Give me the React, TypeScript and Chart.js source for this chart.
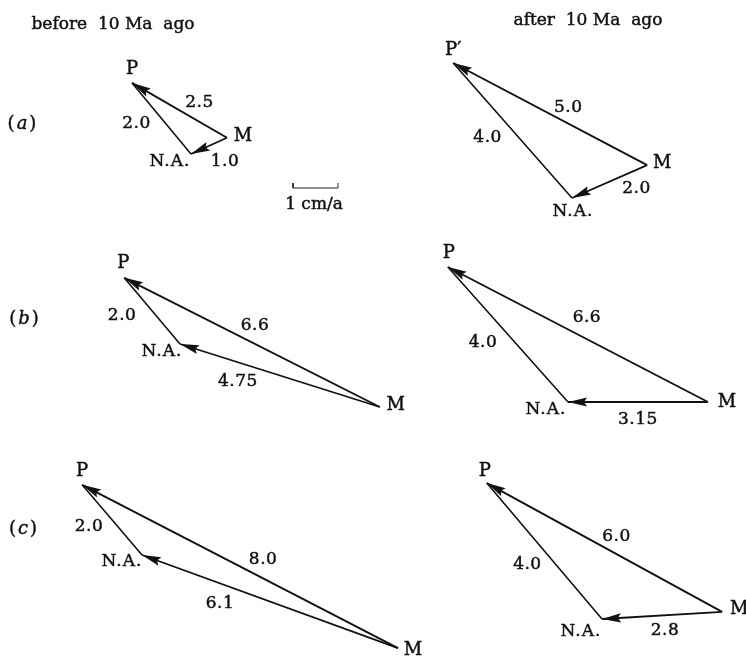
import React, { useEffect, useRef } from "react";
import { Chart, registerables } from "chart.js";

Chart.register(...registerables);

// ---------------- DATA (velocities in cm/a relative to N.A.; east, north) ----------------
const panelIds = ["a-before", "a-after", "b-before", "b-after", "c-before", "c-after"];
const pEast = [-1.31, -2.64, -1.24, -2.67, -1.33, -2.56];
const pNorth = [1.58, 3.0, 1.47, 3.0, 1.56, 3.02];
const mEast = [0.8, 1.67, 4.44, 3.11, 5.69, 2.67];
const mNorth = [0.36, 0.73, -1.4, 0.0, -2.07, 0.16];
const speedMP = ["2.5", "5.0", "6.6", "6.6", "8.0", "6.0"];
const speedNAP = ["2.0", "4.0", "2.0", "4.0", "2.0", "4.0"];
const speedMNA = ["1.0", "2.0", "4.75", "3.15", "6.1", "2.8"];
const pLabels = ["P", "P\u2032", "P", "P", "P", "P"];
const naLabel = "N.A.";
const mLabel = "M";
const rowLetters = ["a", "b", "c"];
const columnTitles = ["before  10 Ma  ago", "after  10 Ma  ago"];
const scaleBarLength = [1];
const scaleBarLabel = "1 cm/a";

// ---------------- LAYOUT ----------------
const W = 746;
const H = 658;
const PX_PER_UNIT = 45;
const UX = W / PX_PER_UNIT;
const UY = H / PX_PER_UNIT;
// N.A. anchor of each panel, in page pixels
const anchorPx = [
  [191, 154],
  [572, 198],
  [180, 344],
  [568, 402],
  [142, 555],
  [602, 619],
];
// label offsets in pixels
const pLabelOff = [[0, -14], [0, -13], [-1, -15], [1, -14], [0, -13], [-2, -12]];
const mLabelOff = [[16, -1], [15, -2], [16, -2], [19, 0], [15, 2], [17, -2]];
const naLabelOff = [[-21, 8], [1, 14], [-18, 8], [-22, 8], [-20, 7], [-21, 13]];
const mpOff = [[20, -8], [18, -6], [3, -17], [9, -17], [23, -7], [12, -11]];
const napOff = [[-25, 5], [-25, 7], [-30, 5], [-25, 8], [-23, 7], [-17, 14]];
const mnaOff = [[16, 16], [27, 7], [-42, 6], [0, 18], [-50, 2], [3, 15]];
const rowLabelPos = [[22, 124], [24, 319], [23, 529]];
const titlePos = [[113, 25], [588, 21]];
const scaleBarPx = [293, 188];
const scaleLabelPos = [314, 205];

const FONT = '"DejaVu Serif", "Liberation Serif", serif';
const INK = "#111";

const anchor = (i: number) => [anchorPx[i][0] / PX_PER_UNIT, (H - anchorPx[i][1]) / PX_PER_UNIT];
const vertexNA = (i: number) => { const a = anchor(i); return { x: a[0], y: a[1] }; };
const vertexP = (i: number) => { const a = anchor(i); return { x: a[0] + pEast[i], y: a[1] + pNorth[i] }; };
const vertexM = (i: number) => { const a = anchor(i); return { x: a[0] + mEast[i], y: a[1] + mNorth[i] }; };

function buildDatasets() {
  const ds: any[] = [];
  panelIds.forEach((id, i) => {
    const P = vertexP(i), M = vertexM(i), N = vertexNA(i);
    ds.push({ label: id + " M-P", data: [M, P], showLine: true, borderColor: INK, borderWidth: 1.9, pointRadius: 0 });
    ds.push({ label: id + " NA-P", data: [N, P], showLine: true, borderColor: INK, borderWidth: 1.6, pointRadius: 0 });
    ds.push({ label: id + " M-NA", data: [M, N], showLine: true, borderColor: INK, borderWidth: 1.8, pointRadius: 0 });
  });
  const sx = scaleBarPx[0] / PX_PER_UNIT;
  const sy = (H - scaleBarPx[1]) / PX_PER_UNIT;
  const tick = 5 / PX_PER_UNIT;
  ds.push({
    label: "scale",
    data: [
      { x: sx, y: sy + tick },
      { x: sx, y: sy },
      { x: sx + scaleBarLength[0], y: sy },
      { x: sx + scaleBarLength[0], y: sy + tick },
    ],
    showLine: true,
    borderColor: "#222",
    borderWidth: 1,
    pointRadius: 0,
  });
  return ds;
}

const figurePlugin = {
  id: "figureDecor",
  afterDatasetsDraw(chart: any) {
    const ctx = chart.ctx as CanvasRenderingContext2D;
    const xs = chart.scales.x, ys = chart.scales.y;
    const pix = (v: { x: number; y: number }) => [xs.getPixelForValue(v.x), ys.getPixelForValue(v.y)];
    ctx.save();
    ctx.fillStyle = INK;
    ctx.strokeStyle = INK;

    const arrow = (from: number[], to: number[]) => {
      const dx = to[0] - from[0], dy = to[1] - from[1];
      const len = Math.hypot(dx, dy);
      const ux = dx / len, uy = dy / len;
      const L = 19, hw = 4.6;
      const bx = to[0] - ux * L, by = to[1] - uy * L;
      ctx.beginPath();
      ctx.moveTo(to[0], to[1]);
      ctx.lineTo(bx - uy * hw, by + ux * hw);
      ctx.lineTo(to[0] - ux * (L - 3), to[1] - uy * (L - 3));
      ctx.lineTo(bx + uy * hw, by - ux * hw);
      ctx.closePath();
      ctx.fill();
    };

    const text = (s: string, x: number, y: number, size = 17, spacing = 0) => {
      ctx.font = `${size}px ${FONT}`;
      (ctx as any).letterSpacing = `${spacing}px`;
      ctx.textAlign = "center";
      ctx.textBaseline = "middle";
      ctx.lineWidth = 0.45;
      ctx.fillText(s, x, y);
      ctx.strokeText(s, x, y);
      (ctx as any).letterSpacing = "0px";
    };

    const piece = (s: string, x: number, y: number, font: string) => {
      ctx.font = font;
      ctx.lineWidth = 0.45;
      ctx.fillText(s, x, y);
      ctx.strokeText(s, x, y);
    };

    panelIds.forEach((_, i) => {
      const P = pix(vertexP(i)), M = pix(vertexM(i)), N = pix(vertexNA(i));
      arrow(M, P);
      arrow(M, N);
      text(pLabels[i], P[0] + pLabelOff[i][0], P[1] + pLabelOff[i][1], 18);
      text(mLabel, M[0] + mLabelOff[i][0], M[1] + mLabelOff[i][1], 18);
      text(naLabel, N[0] + naLabelOff[i][0], N[1] + naLabelOff[i][1], 17, 1);
      text(speedMP[i], (M[0] + P[0]) / 2 + mpOff[i][0], (M[1] + P[1]) / 2 + mpOff[i][1], 17, 0.5);
      text(speedNAP[i], (N[0] + P[0]) / 2 + napOff[i][0], (N[1] + P[1]) / 2 + napOff[i][1], 17, 0.5);
      text(speedMNA[i], (M[0] + N[0]) / 2 + mnaOff[i][0], (M[1] + N[1]) / 2 + mnaOff[i][1], 17, 0.5);
    });

    rowLetters.forEach((r, k) => {
      const [x, y] = rowLabelPos[k];
      const up = `18px ${FONT}`;
      const it = `italic 18px ${FONT}`;
      ctx.textBaseline = "middle";
      ctx.textAlign = "left";
      ctx.font = up;
      const lw = ctx.measureText("(").width;
      ctx.font = it;
      const mw = ctx.measureText(r).width;
      const total = lw * 2 + mw + 4;
      let cx = x - total / 2;
      piece("(", cx, y, up);
      cx += lw + 2;
      piece(r, cx, y, it);
      cx += mw + 2;
      piece(")", cx, y, up);
    });

    columnTitles.forEach((t, k) => text(t, titlePos[k][0], titlePos[k][1], 17));
    text(scaleBarLabel, scaleLabelPos[0], scaleLabelPos[1], 17);
    ctx.restore();
  },
};

export default function App() {
  const ref = useRef<HTMLCanvasElement | null>(null);
  useEffect(() => {
    if (!ref.current) return;
    const chart = new Chart(ref.current, {
      type: "scatter",
      data: { datasets: buildDatasets() },
      options: {
        responsive: false,
        animation: false,
        layout: { padding: 0 },
        plugins: { legend: { display: false }, tooltip: { enabled: false } },
        scales: {
          x: { type: "linear", min: 0, max: UX, display: false },
          y: { type: "linear", min: 0, max: UY, display: false },
        },
        elements: { point: { radius: 0 }, line: { tension: 0 } },
      },
      plugins: [figurePlugin],
    } as any);
    return () => chart.destroy();
  }, []);
  return (
    <div style={{ position: "fixed", left: 0, top: 0, width: W, height: H, background: "#fff" }}>
      <canvas ref={ref} width={W} height={H} style={{ display: "block" }} />
    </div>
  );
}
